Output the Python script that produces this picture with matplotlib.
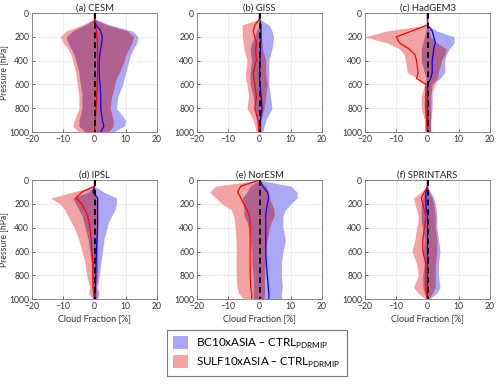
import matplotlib
matplotlib.use("Agg")
import numpy as np
import matplotlib.pyplot as plt
from matplotlib.patches import Patch

plt.rcParams["font.family"] = ["Lato", "DejaVu Sans"]

# pressure levels [hPa]
pressure = [0, 50, 100, 150, 200, 250, 300, 350, 400, 500, 550, 600, 700, 800, 900, 950, 1000]

titles = ["(a) CESM", "(b) GISS", "(c) HadGEM3", "(d) IPSL", "(e) NorESM", "(f) SPRINTARS"]

# BC10xASIA - CTRL: lower edge, upper edge, mean  [%]
cesm_bc_lo = [0, 0, -3, -7, -9, -8.5, -7.5, -6.5, -6, -5, -4.8, -4.5, -4, -4, -5, -5, -3]
cesm_bc_hi = [0, 0, 5, 12, 14, 13.5, 12.5, 11.5, 11, 10, 9.5, 9, 7.5, 7, 10, 9.5, 6]
cesm_bc_mn = [0, 0, 0.5, 2, 2.5, 2.3, 2, 1.7, 1.5, 1.5, 1.6, 1.8, 2, 2, 2.5, 3, 2]
giss_bc_lo = [0, 0, 0, -1, -1.5, -2.5, -3, -2.8, -2.5, -3, -3, -3, -2, -1.5, -0.5, -0.3, -0.3]
giss_bc_hi = [0, 0, 3, 4, 4.5, 4.3, 4, 3.5, 3, 3, 3, 3, 3.5, 4, 2, 1.5, 1]
giss_bc_mn = [0, 0, 0.5, 0.5, 0.5, 0.4, 0.3, 0.2, 0.2, 0, 0, 0.2, 0.5, 0.8, 0.3, 0.2, 0.2]
had_bc_lo = [0, 0, 0, -0.5, -1, -1.5, -2, -2, -2, -1, -0.5, -0.5, -1, -1, -0.5, -0.5, -0.5]
had_bc_hi = [0, 0, 0, 3, 8.5, 8.5, 7, 6, 5.5, 5.5, 4, 1.5, 1.5, 1.5, 1, 1, 1]
had_bc_mn = [0, 0, 0, 1.5, 2, 2.5, 2, 1.8, 1.5, 1.5, 1, 0, 0, 0, 0, 0, 0]
ipsl_bc_lo = [0, 0, -2, -7, -6, -5, -4, -3.5, -3, -2, -1.8, -1.5, -1, -1, -0.5, -0.5, -0.5]
ipsl_bc_hi = [0, 0, 3, 7, 7, 6.5, 5.5, 4.5, 4, 3, 2.8, 2.5, 2, 1.5, 1, 1.5, 1]
ipsl_bc_mn = [0, 0, -0.5, 1, 1, 1, 1, 1, 1, 0.8, 0.7, 0.6, 0.5, 0.4, 0.3, 0.2, 0]
nor_bc_lo = [0, -3, -4, -5.5, -5.2, -5, -5, -4, -3.5, -3, -2.8, -2.5, -2.5, -2, -2, -2, -2]
nor_bc_hi = [0, 10, 12, 12, 10, 8.3, 7.5, 7.5, 7.5, 8.3, 8, 7.5, 7, 7, 7.3, 7, 7]
nor_bc_mn = [0, 1, 2.5, 3, 2.5, 2.2, 2, 2, 2, 2, 2, 2, 2.2, 2.5, 2.8, 3, 3]
spr_bc_lo = [0, 0, -1, -1.5, -2, -2, -2, -2, -1.5, -1, -1.2, -1.5, -1, -1.5, -1.5, -1, -0.3]
spr_bc_hi = [0, 0, 1, 2, 2.5, 2.8, 3, 3, 3, 3.5, 3.8, 4, 3.5, 3.5, 4, 3, 0.5]
spr_bc_mn = [0, 0, -0.5, -0.5, -0.5, -0.3, 0, 0, 0, 0, 0, 0, 0, 0, 0, 0, 0]

# SULF10xASIA - CTRL: lower edge, upper edge, mean  [%]
cesm_su_lo = [0, 0, -4, -9, -11, -10, -8.5, -7.5, -7, -6, -5.8, -5.5, -5, -5, -6.5, -7, -5]
cesm_su_hi = [0, 0, 4, 10.5, 12.5, 12, 11, 10, 9.5, 8, 7, 6.5, 5.5, 5, 6, 6, 4.5]
cesm_su_mn = [0, 0, 0.3, 0.6, 0.8, 0.9, 1, 1, 1, 1, 0.9, 0.9, 0.7, 0.5, 0.2, 0.1, 0]
giss_su_lo = [0, 0, -5.5, -5.5, -5.5, -5.2, -5, -4.5, -4, -4.5, -4.5, -4, -3.5, -4, -2, -1.5, -1]
giss_su_hi = [0, 0, 0, 0.3, 0.5, 0.8, 1, 1.5, 2, 2, 2.2, 2.5, 2, 1.5, 0.5, 0.5, 0.5]
giss_su_mn = [0, 0, -1.5, -2, -1.5, -1, -1.2, -1.1, -1, -2, -1.8, -1.5, -1, -1.5, -0.5, -0.3, -0.3]
had_su_lo = [0, 0, 0, -13, -20, -13, -9, -7.4, -7, -6.5, -3, -1, -2, -2, -1, -1, -1]
had_su_hi = [0, 0, 0, 0.5, 1, 3, 6, 5.5, 4.5, 3.5, 3.2, 2.5, 1, 1, 1, 1, 1]
had_su_mn = [0, 0, 0, -5, -10, -9, -6, -4, -3.5, -3, -3.5, -0.5, -0.5, -0.5, -0.3, -0.2, 0]
ipsl_su_lo = [0, 0, -7, -14, -11, -9.5, -8.5, -7.5, -6.5, -5, -4.5, -4, -3, -2.5, -1.5, -2, -0.5]
ipsl_su_hi = [0, 0, 0, 0.5, 1, 1, 1, 1, 1, 1, 1, 1, 1, 1, 0.5, 0.8, 0.5]
ipsl_su_mn = [0, 0, -4, -6, -4, -3, -2.2, -1.8, -1.5, -1, -1, -0.8, -0.5, -0.5, -0.5, -0.3, 0]
nor_su_lo = [0, -14, -16, -14, -12, -9, -8.3, -8, -7.8, -7.5, -7.5, -7.5, -7.5, -7.5, -7.2, -6.7, -5]
nor_su_hi = [0, 2, 3, 3, 4, 4.7, 4.7, 3.8, 3.2, 2.5, 2.2, 2, 1.8, 1.6, 1.6, 1.6, 1.5]
nor_su_mn = [0, -6, -7, -6, -5, -4, -3.2, -3, -3, -3, -3, -3, -3, -3, -2.8, -2.5, -2.5]
spr_su_lo = [0, 0, -2, -4.5, -4, -3.5, -3, -3, -3.5, -4, -4.5, -5, -3.5, -3, -4.5, -3, -0.5]
spr_su_hi = [0, 0, 0.5, 1.5, 2, 2.2, 2.5, 2.5, 2.5, 3, 3, 3, 2.5, 2.5, 2.5, 1.5, 0.5]
spr_su_mn = [0, 0, -1, -2, -1.5, -1, -0.5, -0.7, -1, -1.5, -1.5, -1.5, -0.5, -0.5, -0.5, -0.3, 0]

bc_sets = [
    (cesm_bc_lo, cesm_bc_hi, cesm_bc_mn),
    (giss_bc_lo, giss_bc_hi, giss_bc_mn),
    (had_bc_lo, had_bc_hi, had_bc_mn),
    (ipsl_bc_lo, ipsl_bc_hi, ipsl_bc_mn),
    (nor_bc_lo, nor_bc_hi, nor_bc_mn),
    (spr_bc_lo, spr_bc_hi, spr_bc_mn),
]
su_sets = [
    (cesm_su_lo, cesm_su_hi, cesm_su_mn),
    (giss_su_lo, giss_su_hi, giss_su_mn),
    (had_su_lo, had_su_hi, had_su_mn),
    (ipsl_su_lo, ipsl_su_hi, ipsl_su_mn),
    (nor_su_lo, nor_su_hi, nor_su_mn),
    (spr_su_lo, spr_su_hi, spr_su_mn),
]

BLUE_FILL = "#a8a8f6"
RED_FILL = "#f2a4a4"
BOTH_FILL = "#b1618f"

fig = plt.figure(figsize=(5.0, 3.85), dpi=100)

lefts = [0.064, 0.394, 0.73]
bottoms = [0.657, 0.223]
w, h = 0.25, 0.309

for i, title in enumerate(titles):
    row, col = divmod(i, 3)
    ax = fig.add_axes([lefts[col], bottoms[row], w, h])
    b_lo, b_hi, b_mn = bc_sets[i]
    s_lo, s_hi, s_mn = su_sets[i]
    ax.fill_betweenx(pressure, b_lo, b_hi, color=BLUE_FILL, lw=0, zorder=2)
    ax.fill_betweenx(pressure, s_lo, s_hi, color=RED_FILL, lw=0, zorder=3)
    # region where the two spreads overlap
    o_lo = np.maximum(b_lo, s_lo)
    o_hi = np.minimum(b_hi, s_hi)
    ax.fill_betweenx(pressure, o_lo, o_hi, where=o_hi > o_lo, interpolate=True,
                     color=BOTH_FILL, lw=0, zorder=3.5)
    ax.plot(b_mn, pressure, color="blue", lw=0.9, zorder=4)
    ax.plot(s_mn, pressure, color="red", lw=0.9, zorder=5)
    ax.plot([0, 0], [0, 1000], color="black", lw=1.4, ls=(0, (3, 2)), zorder=6)

    ax.set_xlim(-20, 20)
    ax.set_ylim(1000, 0)
    ax.set_xticks([-20, -10, 0, 10, 20])
    ax.set_yticks([0, 200, 400, 600, 800, 1000])
    ax.grid(True, color="#e6e6e6", lw=0.5, zorder=0)
    ax.set_axisbelow(True)
    ax.tick_params(direction="in", length=2, width=0.5, labelsize=6.2,
                   colors="#333333", pad=2)
    for s in ax.spines.values():
        s.set_color("#777777")
        s.set_linewidth(0.6)
    ax.set_title(title, fontsize=6.8, pad=2, color="#222222")
    if col == 0:
        ax.set_ylabel("Pressure [hPa]", fontsize=6.2, color="#333333", labelpad=1)
    if row == 1:
        ax.set_xlabel("Cloud Fraction [%]", fontsize=6.5, color="#333333", labelpad=2)

handles = [
    Patch(facecolor=BLUE_FILL, edgecolor="none"),
    Patch(facecolor=RED_FILL, edgecolor="none"),
]
labels = [
    r"BC10xASIA – CTRL$_{\mathregular{PDRMIP}}$",
    r"SULF10xASIA – CTRL$_{\mathregular{PDRMIP}}$",
]
leg = fig.legend(handles, labels, loc="center", bbox_to_anchor=(0.514, 0.083),
                 fontsize=8.4, frameon=True, fancybox=False, edgecolor="#555555",
                 handlelength=1.3, handleheight=1.3, handletextpad=0.7,
                 labelspacing=0.4, borderpad=0.55)
leg.get_frame().set_linewidth(0.8)

fig.savefig("out.png", dpi=100)
